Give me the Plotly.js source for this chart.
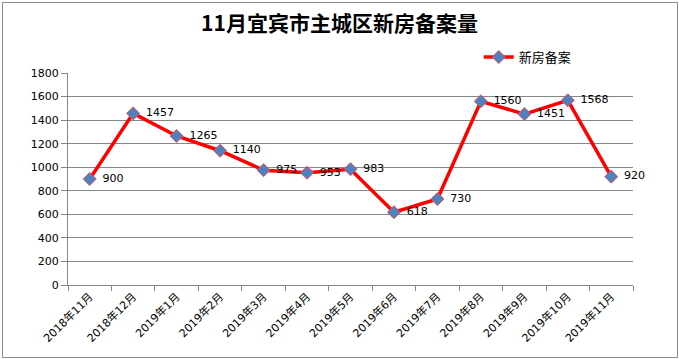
<!DOCTYPE html>
<html>
<head>
<meta charset="utf-8">
<script src="https://cdn.plot.ly/plotly-3.0.1.min.js"></script>
<style>
html,body{margin:0;padding:0;background:#fff;}
#chart{width:679px;height:359px;}
#frame{position:absolute;left:2px;top:2px;width:674px;height:354px;border:1px solid #8c8c8c;pointer-events:none;}
</style>
</head>
<body>
<div id="chart"></div>
<div id="frame"></div>
<script>
const months = ["2018年11月","2018年12月","2019年1月","2019年2月","2019年3月","2019年4月","2019年5月","2019年6月","2019年7月","2019年8月","2019年9月","2019年10月","2019年11月"];
const filings = [900,1457,1265,1140,975,953,983,618,730,1560,1451,1568,920];
const seriesName = "新房备案";
const chartTitle = "11月宜宾市主城区新房备案量";

const font = '"DejaVu Sans","Noto Sans CJK SC",sans-serif';
const trace = {
  x: months, y: filings, type: "scatter", mode: "lines+markers+text",
  name: seriesName,
  text: filings.map(v => "\u2002" + v),
  textposition: "middle right",
  textfont: {family: font, size: 11, color: "#000"},
  line: {color: "#ff0000", width: 3.5},
  marker: {symbol: "diamond", size: 10, color: "#4f81bd", line: {color: "#e0505a", width: 1}},
  cliponaxis: false
};
const layout = {
  width: 679, height: 359,
  margin: {l: 68, r: 46, t: 73, b: 74},
  paper_bgcolor: "#fff", plot_bgcolor: "#fff",
  title: {text: "<b>" + chartTitle + "</b>", font: {family: '"Noto Sans CJK SC",sans-serif', size: 21, color: "#000"}, x: 0.5, xanchor: "center", y: 0.935, yanchor: "middle"},
  showlegend: true,
  legend: {x: 0.727, xanchor: "left", y: 1.075, yanchor: "middle", orientation: "h", font: {family: '"Noto Sans CJK SC",sans-serif', size: 13, color: "#000"}, bgcolor: "rgba(0,0,0,0)"},
  xaxis: {
    type: "category", tickson: "boundaries", ticks: "outside", ticklen: 5, tickcolor: "#868686",
    showline: true, linecolor: "#868686", showgrid: false, tickangle: -45,
    tickfont: {family: font, size: 11, color: "#000"}, range: [-0.5, 12.5], fixedrange: true
  },
  yaxis: {
    range: [0, 1800], dtick: 200, ticks: "outside", ticklen: 6, tickcolor: "#868686",
    showline: true, linecolor: "#868686", gridcolor: "#868686", gridwidth: 1,
    tickfont: {family: font, size: 11, color: "#000"}, zeroline: false, fixedrange: true
  }
};
Plotly.newPlot("chart", [trace], layout, {staticPlot: true, displayModeBar: false});
</script>
</body>
</html>
